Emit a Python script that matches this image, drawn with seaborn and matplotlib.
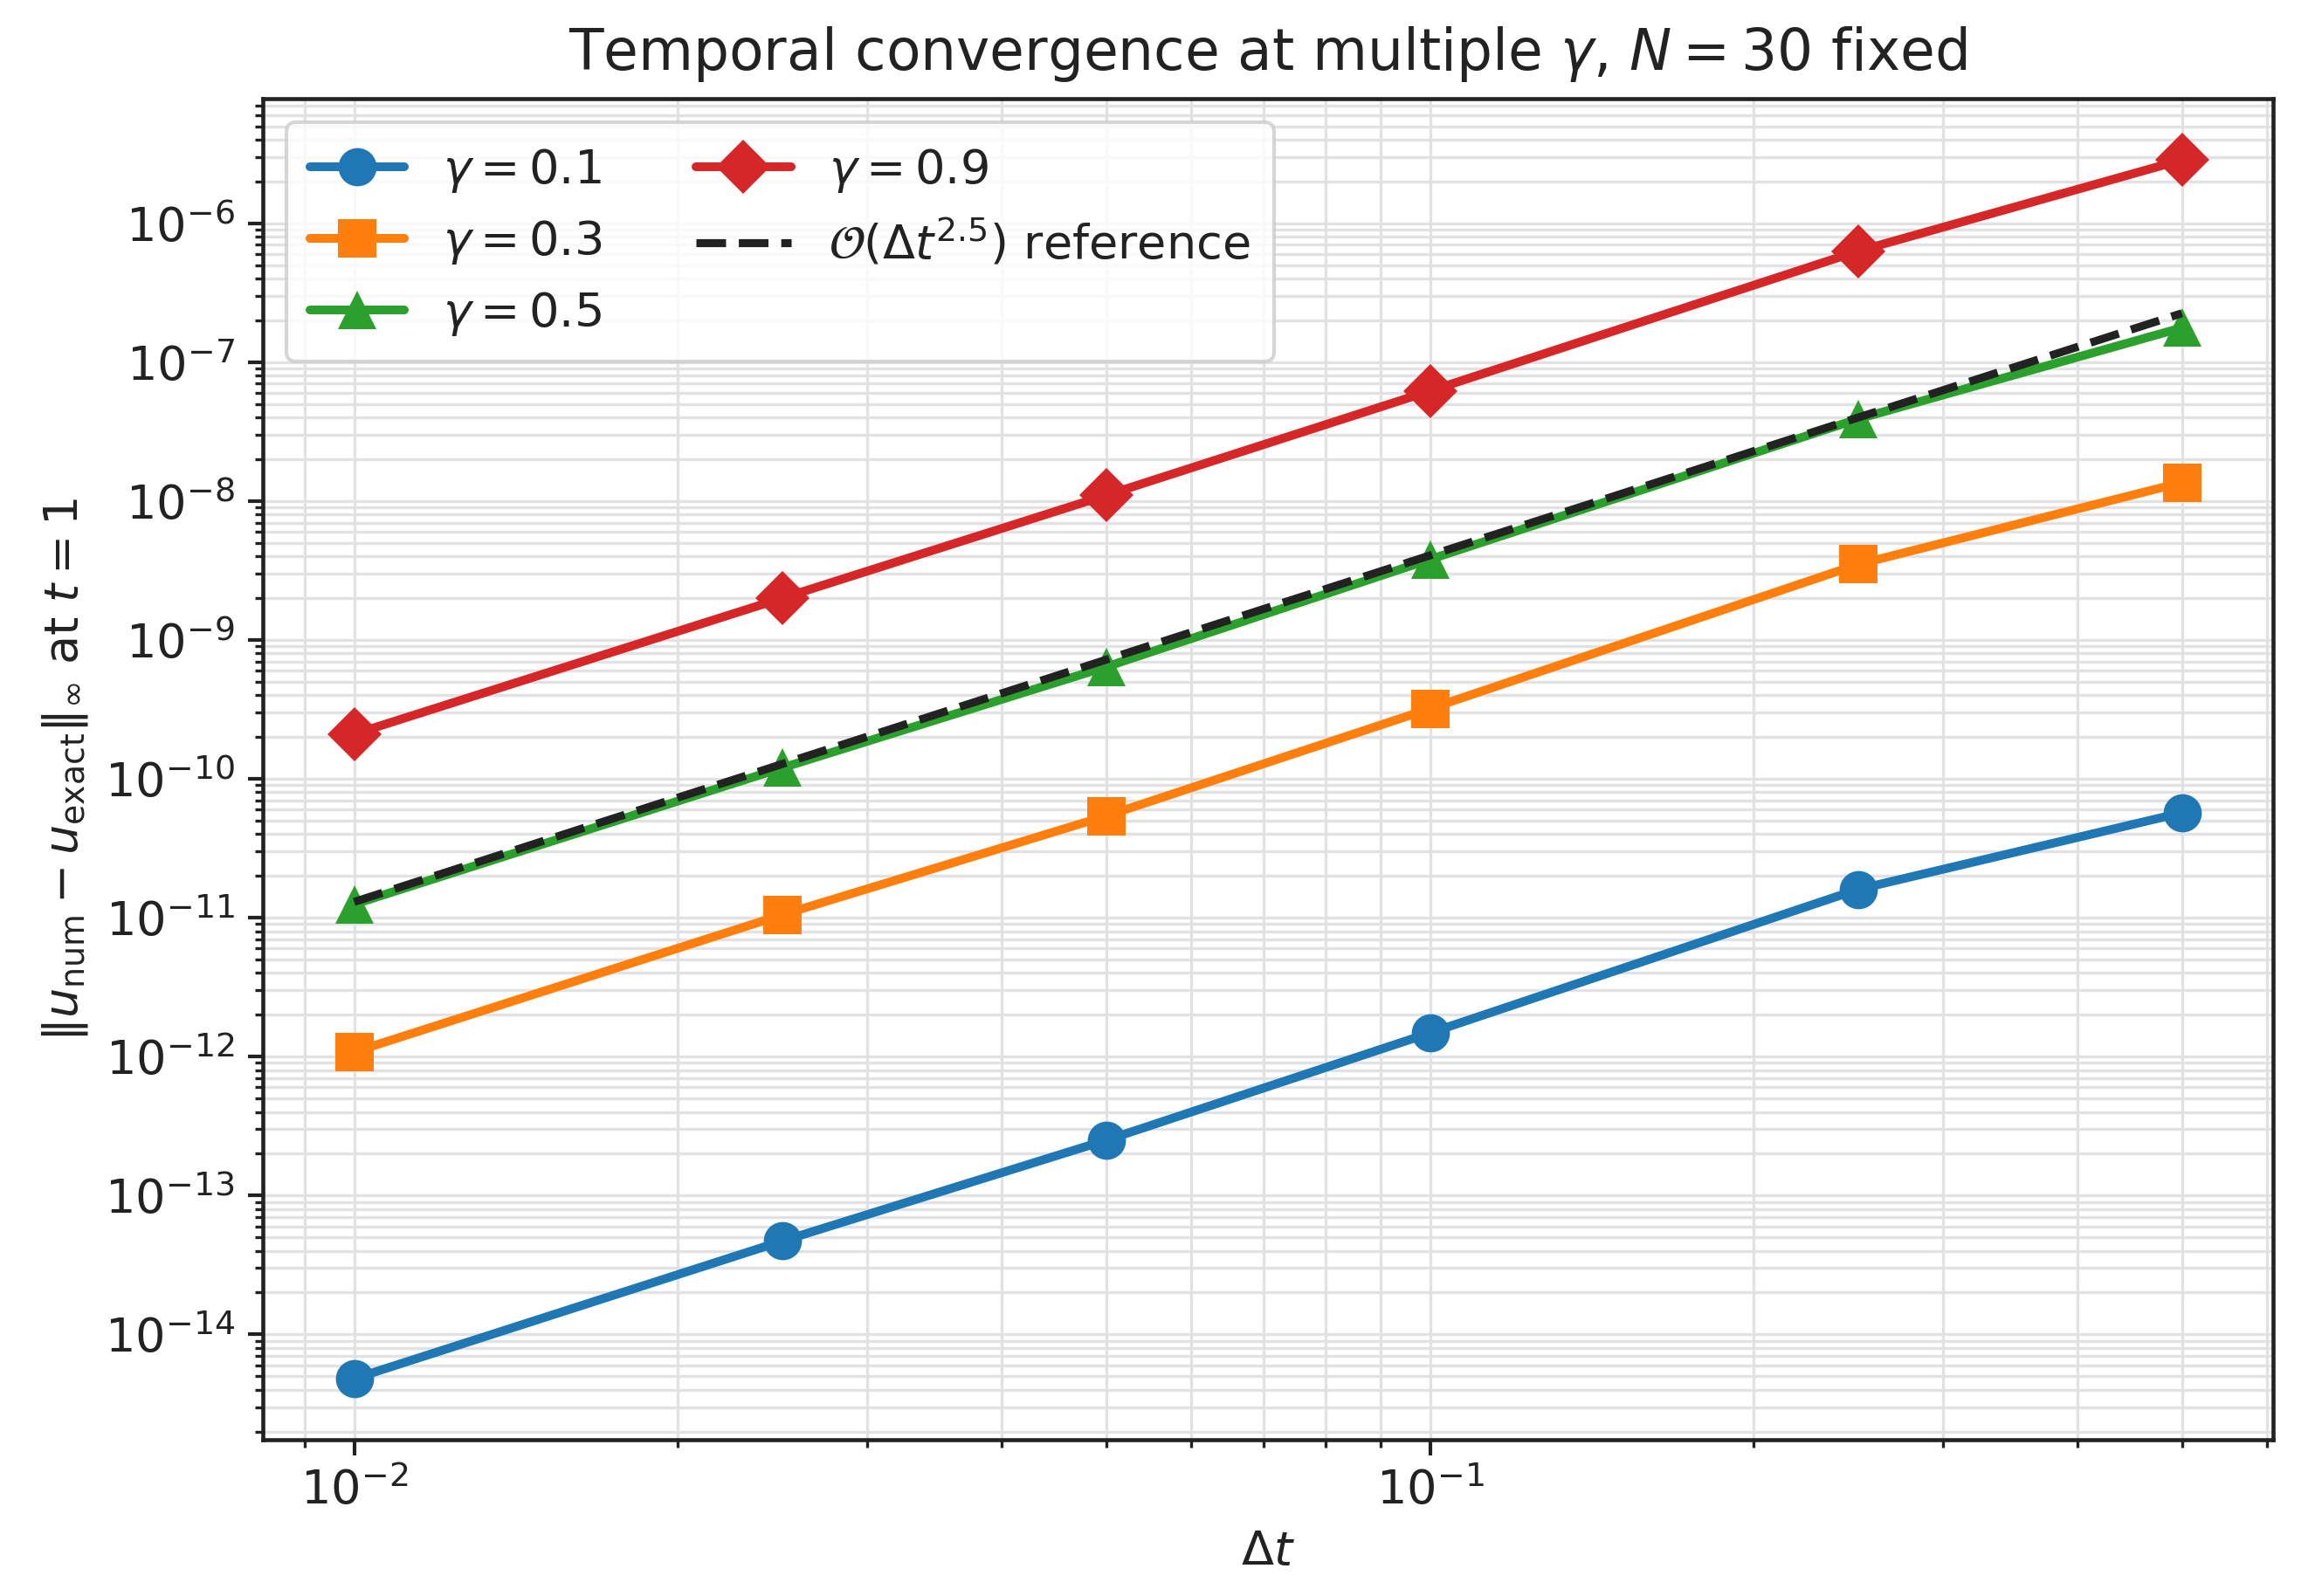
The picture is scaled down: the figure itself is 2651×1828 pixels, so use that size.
import numpy as np
import pandas as pd
import matplotlib
matplotlib.use("Agg")
import matplotlib.pyplot as plt
import matplotlib.ticker as mticker
import seaborn as sns

# time steps
dt = [0.01, 0.025, 0.05, 0.1, 0.25, 0.5]

# errors, one list per gamma
err_g01 = [4.8e-15, 4.7e-14, 2.5e-13, 1.48e-12, 1.6e-11, 5.7e-11]
err_g03 = [1.08e-12, 1.05e-11, 5.4e-11, 3.2e-10, 3.5e-9, 1.36e-8]
err_g05 = [1.25e-11, 1.2e-10, 6.4e-10, 3.8e-9, 3.9e-8, 1.77e-7]
err_g09 = [2.1e-10, 2.0e-9, 1.1e-8, 6.2e-8, 6.3e-7, 2.86e-6]

# dashed reference line end points
ref_dt = [0.01, 0.5]
ref_err = [1.3e-11, 2.25e-7]

gammas = ["0.1", "0.3", "0.5", "0.9"]
errors = [err_g01, err_g03, err_g05, err_g09]
colors = ["#1f77b4", "#ff7f0e", "#2ca02c", "#d62728"]
markers = ["o", "s", "^", "D"]


def main():
    sns.set_theme(style="ticks", rc={
        "axes.edgecolor": "#222222",
        "axes.linewidth": 1.1,
        "xtick.color": "#222222",
        "ytick.color": "#222222",
        "xtick.major.size": 4.2,
        "ytick.major.size": 4.2,
        "xtick.minor.size": 2.2,
        "ytick.minor.size": 2.2,
        "xtick.major.width": 1.0,
        "ytick.major.width": 1.0,
        "xtick.minor.width": 0.8,
        "ytick.minor.width": 0.8,
        "text.color": "#222222",
        "axes.labelcolor": "#222222",
    })
    plt.rcParams["font.family"] = ["DejaVu Sans"]
    plt.rcParams["mathtext.fontset"] = "dejavusans"

    fig, ax = plt.subplots(figsize=(2651 / 300, 1828 / 300), dpi=300)
    fig.subplots_adjust(left=0.1135, right=0.982, top=0.938, bottom=0.098)

    for g, err, c, m in zip(gammas, errors, colors, markers):
        df = pd.DataFrame({"dt": dt, "err": err})
        sns.lineplot(data=df, x="dt", y="err", ax=ax, color=c, marker=m,
                     markersize=10.5, markeredgewidth=0, linewidth=2.4,
                     label=rf"$\gamma = {g}$", zorder=3)

    ref = pd.DataFrame({"dt": ref_dt, "err": ref_err})
    sns.lineplot(data=ref, x="dt", y="err", ax=ax, color="#222222",
                 linestyle="--", linewidth=2.2,
                 label=r"$\mathcal{O}(\Delta t^{2.5})$ reference", zorder=4)

    ax.set_xscale("log")
    ax.set_yscale("log")
    ax.yaxis.set_major_locator(mticker.LogLocator(base=10, numticks=30))
    ax.yaxis.set_minor_locator(mticker.LogLocator(base=10, subs=np.arange(2, 10), numticks=100))
    ax.yaxis.set_minor_formatter(mticker.NullFormatter())

    ax.grid(True, which="major", color="#e2e2e4", linewidth=0.8)
    ax.grid(True, which="minor", color="#e2e2e4", linewidth=0.8)
    ax.set_axisbelow(True)

    ax.tick_params(axis="both", which="major", labelsize=13)
    ax.set_xlabel(r"$\Delta t$", fontsize=13)
    ax.set_ylabel(r"$\|u_{\mathrm{num}} - u_{\mathrm{exact}}\|_\infty$ at $t=1$", fontsize=13)
    ax.set_title(r"Temporal convergence at multiple $\gamma$, $N=30$ fixed", fontsize=15.5, pad=8)

    handles, labels = ax.get_legend_handles_labels()
    ax.legend(handles, labels, loc="upper left", ncol=2, fontsize=13,
              frameon=True, fancybox=True, framealpha=0.8, edgecolor="#cccccc",
              handlelength=2.0, columnspacing=2.0, borderpad=0.5)

    plt.savefig("out.png", dpi=300)
    plt.close()


if __name__ == "__main__":
    main()
